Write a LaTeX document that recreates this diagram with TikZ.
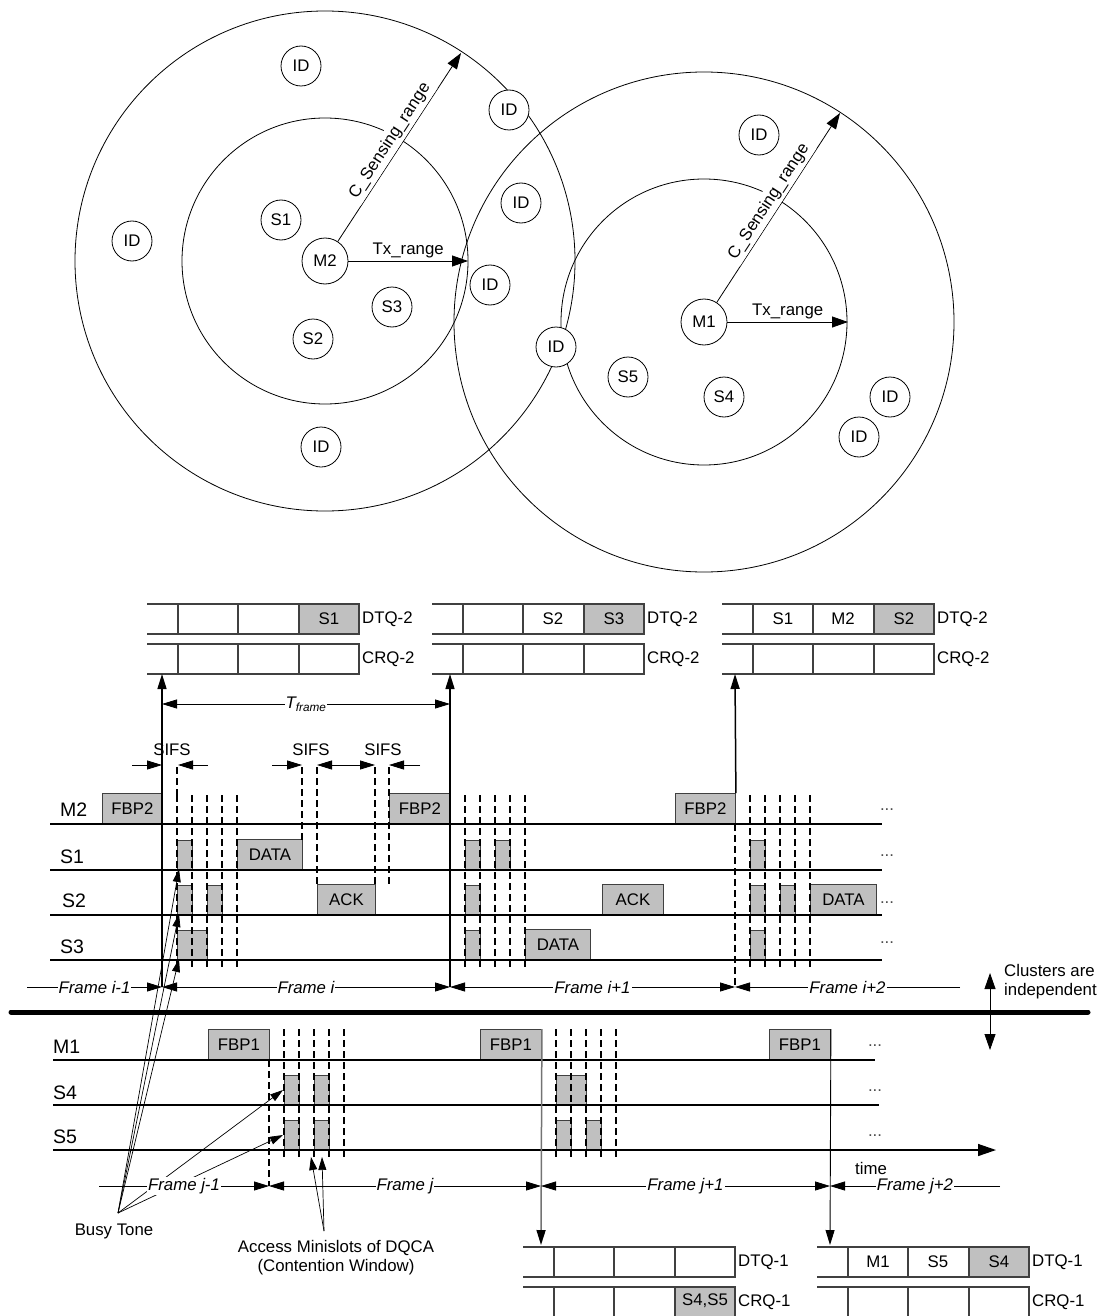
\documentclass[tikz,border=0pt]{standalone}
\usepackage{fontspec}
\setmainfont{Liberation Sans}
\usetikzlibrary{arrows.meta}
\definecolor{slotgray}{HTML}{C0C0C0}
\newcommand{\lblfont}{\fontsize{16.8}{19}\selectfont}
\newcommand{\rowfont}{\fontsize{19.5}{22}\selectfont}
\tikzset{
  station/.style={draw,circle,fill=white,inner sep=0pt,minimum size=40pt,line width=0.8pt,font=\lblfont},
  master/.style={station,minimum size=46pt},
  rangecircle/.style={line width=0.8pt},
  rangearrow/.style={-{Triangle[length=16pt,width=11pt]},line width=0.8pt},
  rangelabel/.style={font=\lblfont,fill=white,inner sep=3pt},
  textlbl/.style={font=\lblfont,inner sep=1pt},
  rowlabel/.style={font=\rowfont,anchor=west,inner sep=0pt},
  timeline/.style={line width=1.4pt},
  frameline/.style={line width=1.5pt},
  minislot/.style={line width=1.2pt,dash pattern=on 7pt off 4pt},
  pulse/.style={draw=black!75,fill=slotgray,line width=0.9pt},
  pulsebox/.style={pulse,anchor=south west,minimum height=30pt,inner sep=0pt,font=\lblfont},
  bigtip/.style={-{Triangle[length=15pt,width=9pt]}},
  tiparrow/.style={line width=0.8pt,-{Triangle[length=15pt,width=9pt]}},
  bothtips/.style={line width=0.8pt,{Triangle[length=15pt,width=9pt]}-{Triangle[length=15pt,width=9pt]}},
  pointer/.style={line width=0.7pt,-{Triangle[length=13pt,width=8pt]}},
  framelabel/.style={font=\lblfont\itshape,fill=white,inner sep=1pt},
  qline/.style={draw=black!75,line width=1.1pt},
  qlabel/.style={font=\lblfont,anchor=west,inner sep=0pt},
  qtext/.style={font=\lblfont,inner sep=0pt},
  moredots/.style={font=\lblfont,text=black!70,anchor=base,inner sep=0pt}
}

\begin{document}
\begin{tikzpicture}[x=1pt,y=-1pt]
  \useasboundingbox (0,0) rectangle (1101,1316);

  % two clusters with Tx and carrier sensing ranges
  \coordinate (c2) at (325,261);
  \coordinate (c1) at (704,322);
  \draw[rangecircle] (c2) circle[radius=143pt] (c2) circle[radius=250pt];
  \draw[rangecircle] (c1) circle[radius=143pt] (c1) circle[radius=250pt];
  \coordinate (tx2) at (468,261);
  \coordinate (cs2) at (461,53);
  \coordinate (tx1) at (848,322);
  \coordinate (cs1) at (840,113);
  \node[master] (M2) at (c2) {M2};
  \node[master] (M1) at (c1) {M1};
  \draw[rangearrow] (M2) -- node[above,textlbl,inner sep=3pt] (txl2) {Tx\_range} (tx2);
  \draw[rangearrow] (M2) -- node[sloped,above,rangelabel,pos=0.5] (csl2) {C\_Sensing\_range} (cs2);
  \draw[rangearrow] (M1) -- node[above,textlbl,inner sep=3pt] (txl1) {Tx\_range} (tx1);
  \draw[rangearrow] (M1) -- node[sloped,above,rangelabel,pos=0.5] (csl1) {C\_Sensing\_range} (cs1);
  \node[station] (S1) at (281,220) {S1};
  \node[station] (S2) at (313,339) {S2};
  \node[station] (S3) at (392,307) {S3};
  \node[station] (S4) at (724,397) {S4};
  \node[station] (S5) at (628,377) {S5};
  \foreach \px/\py [count=\i] in {301/66,509/110,521/203,490/285,132/241,321/447,556/347,759/135,890/397,859/437}
    \node[station] (id\i) at (\px,\py) {ID};

  % queues DTQ / CRQ
  \foreach \gx/\gy in {299/604,584/604,874/604,675/1286,969/1247}
    \fill[slotgray] (\gx,\gy) rectangle ++(60,30);
  \foreach \qx/\qy/\qn/\qname in {147/604/2/qa,432/604/2/qb,722/604/2/qc,523/1247/1/qd,817/1247/1/qe}{
    \foreach \dy/\qt in {0/DTQ,40/CRQ}{
      \draw[qline] (\qx,\qy+\dy) -- ++(212,0) -- ++(0,30) -- ++(-212,0);
      \foreach \d in {31,91,152} \draw[qline] (\qx+\d,\qy+\dy) -- ++(0,30);
      \node[qlabel] (\qname\qt) at (\qx+215,\qy+\dy+15) {\qt-\qn};
    }
  }
  \node[qtext] (qa3) at (329,619) {S1};
  \node[qtext] (qb2) at (553,619) {S2};
  \node[qtext] (qb3) at (614,619) {S3};
  \node[qtext] (qc1) at (783,619) {S1};
  \node[qtext] (qc2) at (843,619) {M2};
  \node[qtext] (qc3) at (904,619) {S2};
  \node[qtext] (qd3) at (705,1301) {S4,S5};
  \node[qtext] (qe1) at (878,1262) {M1};
  \node[qtext] (qe2) at (938,1262) {S5};
  \node[qtext] (qe3) at (999,1262) {S4};

  % access minislots (busy tone pulses)
  \foreach \x/\w/\y in {177/15/870,177/15/915,207/15/915,177/30/960,
                        465/15/870,495/15/870,465/15/915,465/15/960,
                        750/15/870,750/15/915,780/15/915,750/15/960,
                        284/15/1105,314/15/1105,284/15/1150,314/15/1150,
                        556/30/1105,556/15/1150,586/15/1150}
    \draw[pulse] (\x,\y) rectangle ++(\w,-30);
  \node[pulsebox,minimum width=60pt] (fbp2a) at (102,824) {FBP2};
  \node[pulsebox,minimum width=61pt] (fbp2b) at (389,824) {FBP2};
  \node[pulsebox,minimum width=60pt] (fbp2c) at (675,824) {FBP2};
  \node[pulsebox,minimum width=65pt] (data1) at (237,870) {DATA};
  \node[pulsebox,minimum width=58pt] (ack1) at (317,915) {ACK};
  \node[pulsebox,minimum width=61pt] (ack2) at (602,915) {ACK};
  \node[pulsebox,minimum width=65pt] (data2) at (525,960) {DATA};
  \node[pulsebox,minimum width=66pt] (data3) at (810,915) {DATA};
  \node[pulsebox,minimum width=61pt] (fbp1a) at (208,1060) {FBP1};
  \node[pulsebox,minimum width=61pt] (fbp1b) at (480,1060) {FBP1};
  \node[pulsebox,minimum width=61pt] (fbp1c) at (769,1060) {FBP1};

  \foreach \b in {162,450,735}
    \foreach \k in {1,...,5} \draw[minislot] (\b+15*\k,795) -- (\b+15*\k,970);
  \foreach \b in {269,541}
    \foreach \k in {1,...,5} \draw[minislot] (\b+15*\k,1029) -- (\b+15*\k,1158);
  \draw[minislot] (177,767) -- (177,795);
  \draw[minislot] (302,767) -- (302,840);
  \foreach \x in {317,375,389} \draw[minislot] (\x,767) -- (\x,885);
  \draw[minislot] (735,824) -- (735,987);
  \draw[minislot] (269,1060) -- (269,1186);

  % time lines
  \foreach \y in {824,870,915,960} \draw[timeline] (50,\y) -- (882,\y);
  \draw[timeline] (53,1060) -- (875,1060);
  \draw[timeline] (53,1105) -- (879,1105);
  \coordinate (tend) at (996,1150);
  \draw[timeline,-{Triangle[length=18pt,width=12pt]}] (53,1150) -- (tend);
  \node[rowlabel] (lM2) at (60,810) {M2};
  \node[rowlabel] (lS1) at (60,857) {S1};
  \node[rowlabel] (lS2) at (62,901) {S2};
  \node[rowlabel] (lS3) at (60,947) {S3};
  \node[rowlabel] (lM1) at (53,1047) {M1};
  \node[rowlabel] (lS4) at (53,1093) {S4};
  \node[rowlabel] (lS5) at (53,1137) {S5};
  \foreach \y [count=\i] in {810,856,903,943} \node[moredots] (dotsA\i) at (887,\y) {...};
  \foreach \y [count=\i] in {1046,1091,1136} \node[moredots] (dotsB\i) at (875,\y) {...};
  \node[textlbl] (timelbl) at (871,1168) {time};

  % frame borders and queue updates
  \coordinate (fi0) at (162,987);
  \coordinate (fi1) at (450,987);
  \coordinate (fi2) at (735,987);
  \coordinate (qi0) at (162,674);
  \coordinate (qi1) at (450,674);
  \coordinate (qi2) at (735,674);
  \draw[frameline,bigtip] (fi0) -- (qi0);
  \draw[frameline,bigtip] (fi1) -- (qi1);
  \draw[frameline,bigtip] (fbp2c.north east) -- (qi2);
  \coordinate (fj0) at (269,1186);
  \coordinate (fj1) at (541,1186);
  \coordinate (fj2) at (830,1186);
  \coordinate (qj1) at (541,1245);
  \coordinate (qj2) at (830,1245);
  \draw[line width=1.5pt,black!55,-{Triangle[length=15pt,width=9pt,color=black]}] (fbp1b.north east) -- (qj1);
  \draw[line width=0.9pt,bigtip] (fbp1c.north east) -- (qj2);

  \coordinate (tf0) at (162,704);
  \coordinate (tf1) at (450,704);
  \draw[bothtips] (tf0) -- node[framelabel] (tfl) {T\textsubscript{frame}} (tf1);

  % SIFS
  \node[textlbl] (sifs1) at (172,750) {SIFS};
  \node[textlbl] (sifs2) at (311,750) {SIFS};
  \node[textlbl] (sifs3) at (383,750) {SIFS};
  \draw[tiparrow] (132,765) -- (162,765);
  \draw[tiparrow] (208,765) -- (178,765);
  \draw[tiparrow] (272,765) -- (302,765);
  \draw[bothtips] (317,765) -- (375,765);
  \draw[tiparrow] (420,765) -- (389,765);

  % busy tone and contention window pointers
  \node[textlbl] (busy) at (114,1231) {Busy Tone};
  \coordinate (bt) at (118,1213);
  \foreach \tx/\ty in {179/869,179/914,179/959,283/1090,283/1135}
    \draw[pointer] (bt) -- (\tx,\ty);
  \node[textlbl,align=center] (access) at (336,1258) {Access Minislots of DQCA\\(Contention Window)};
  \coordinate (am) at (324,1231);
  \foreach \tx in {311,322} \draw[pointer] (am) -- (\tx,1157);

  % frame rows
  \coordinate (fiL) at (27,987);
  \coordinate (fiR) at (960,987);
  \draw[tiparrow] (fiL) -- node[framelabel] (fr0) {Frame i-1} (fi0);
  \draw[bothtips] (fi0) -- node[framelabel] (fr1) {Frame i} (fi1);
  \draw[bothtips] (fi1) -- node[framelabel] (fr2) {Frame i+1} (fi2);
  \draw[tiparrow] (fiR) -- node[framelabel] (fr3) {Frame i+2} (fi2);
  \coordinate (fjL) at (99,1186);
  \coordinate (fjR) at (1000,1186);
  \draw[tiparrow] (fjL) -- node[framelabel] (fs0) {Frame j-1} (fj0);
  \draw[bothtips] (fj0) -- node[framelabel] (fs1) {Frame j} (fj1);
  \draw[bothtips] (fj1) -- node[framelabel] (fs2) {Frame j+1} (fj2);
  \draw[tiparrow] (fjR) -- node[framelabel] (fs3) {Frame j+2} (fj2);

  % separation between the clusters
  \draw[line width=5pt,line cap=round] (11,1012) -- (1088,1012);
  \coordinate (ca) at (990,973);
  \coordinate (cb) at (990,1050);
  \draw[line width=0.8pt,{Triangle[length=16pt,width=11pt]}-{Triangle[length=16pt,width=11pt]}] (ca) -- (cb);
  \node[textlbl,anchor=west,align=left] (indep) at (1003,982) {Clusters are\\independent};
\end{tikzpicture}
\end{document}
